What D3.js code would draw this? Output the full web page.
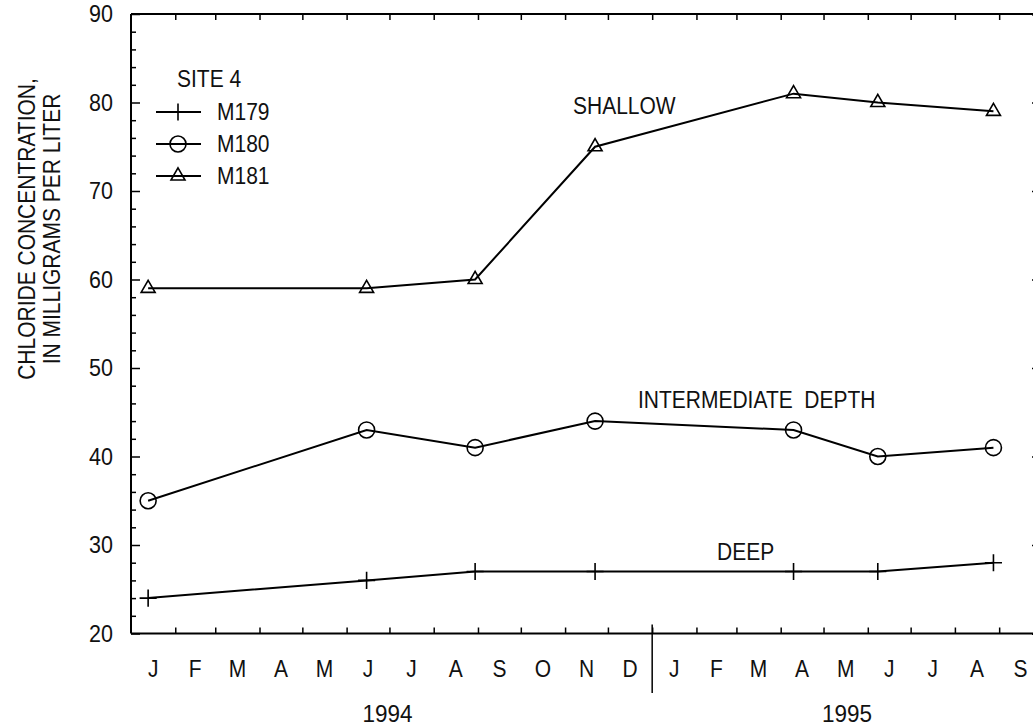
<!DOCTYPE html>
<html>
<head>
<meta charset="utf-8">
<script src="https://cdn.jsdelivr.net/npm/d3@7"></script>
<style>
  body { margin: 0; background: #fff; }
  text { font-family: "Liberation Sans", Arial, sans-serif; fill: #111; }
</style>
</head>
<body>
<div id="chart"></div>
<script>
// sampling dates (same for the three wells)
const sampleDates = ["1994-01-13", "1994-06-15", "1994-08-30", "1994-11-22", "1995-04-10", "1995-06-08", "1995-08-28"];
const m179 = [24, 26, 27, 27, 27, 27, 28];   // deep
const m180 = [35, 43, 41, 44, 43, 40, 41];   // intermediate depth
const m181 = [59, 59, 60, 75, 81, 80, 79];   // shallow
const monthLabels = ["J","F","M","A","M","J","J","A","S","O","N","D","J","F","M","A","M","J","J","A","S"];
const yearLabels = ["1994", "1995"];

const W = 1033, H = 728;
const parse = d3.timeParse("%Y-%m-%d");
const stretch = "scale(1,1.1)"; // the lettering in the original is a bit tall

const svg = d3.select("#chart").append("svg")
    .attr("width", W).attr("height", H);

const x = d3.scaleTime()
  .domain([new Date(1994, 0, 1), new Date(1995, 9, 1)])
  .range([131, 1042]);
const y = d3.scaleLinear()
  .domain([20, 90])
  .range([633.5, 14]);

const months = d3.timeMonth.range(new Date(1994, 0, 1), new Date(1995, 9, 1));

// frame lines
const frame = svg.append("g").attr("stroke", "#000").attr("stroke-width", 2).attr("fill", "none");
frame.append("line").attr("x1", x.range()[0]).attr("x2", x.range()[1]).attr("y1", y(20)).attr("y2", y(20));
frame.append("line").attr("x1", x.range()[0]).attr("x2", x.range()[1]).attr("y1", y(90)).attr("y2", y(90));
frame.append("line").attr("x1", x.range()[0]).attr("x2", x.range()[0]).attr("y1", y(20)).attr("y2", y(90));

// left axis: major ticks with labels, minor every 2
svg.append("g")
  .attr("transform", `translate(${x.range()[0]},0)`)
  .call(d3.axisLeft(y).tickValues(d3.range(20, 91, 10)).tickSize(-9).tickPadding(18))
  .call(g => g.select(".domain").remove())
  .call(g => g.selectAll("line").attr("stroke-width", 1.5))
  .call(g => g.selectAll("text")
    .attr("font-size", 21.5)
    .attr("font-family", "Liberation Sans, Arial, sans-serif")
    .attr("fill", "#111")
    .attr("transform", stretch));
svg.append("g")
  .attr("transform", `translate(${x.range()[0]},0)`)
  .call(d3.axisLeft(y).tickValues(d3.range(20, 91, 2).filter(v => v % 10)).tickSize(-5).tickFormat(""))
  .call(g => g.select(".domain").remove())
  .call(g => g.selectAll("line").attr("stroke-width", 1.5));

// right axis (sits just past the page edge)
svg.append("g")
  .attr("transform", `translate(${x.range()[1]},0)`)
  .call(d3.axisRight(y).tickValues(d3.range(20, 91, 10)).tickSize(-10).tickFormat(""))
  .call(g => g.select(".domain").attr("stroke-width", 2))
  .call(g => g.selectAll("line").attr("stroke-width", 1.5));

// bottom axis: month boundaries
svg.append("g")
  .attr("transform", `translate(0,${y(20)})`)
  .call(d3.axisBottom(x).tickValues(months.slice(1)).tickSize(-6).tickFormat(""))
  .call(g => g.select(".domain").remove())
  .call(g => g.selectAll("line").attr("stroke-width", 1.5));
// top axis
svg.append("g")
  .attr("transform", `translate(0,${y(90)})`)
  .call(d3.axisTop(x).tickValues(months.slice(1)).tickSize(-6).tickFormat(""))
  .call(g => g.select(".domain").remove())
  .call(g => g.selectAll("line").attr("stroke-width", 1.5));

// month letters centred in each month
svg.append("g").selectAll("text")
  .data(months)
  .join("text")
    .attr("transform", d => `translate(${(x(d) + x(d3.timeMonth.offset(d, 1))) / 2},669) ${stretch}`)
    .attr("dy", "0.35em")
    .attr("text-anchor", "middle")
    .attr("font-size", 21)
    .text((d, i) => monthLabels[i]);

// year divider
const yearStart = new Date(1995, 0, 1);
svg.append("line")
  .attr("x1", x(yearStart)).attr("x2", x(yearStart))
  .attr("y1", y(20) - 9).attr("y2", 693)
  .attr("stroke", "#000").attr("stroke-width", 1.5);

// year labels
const yearSpans = [[x.domain()[0], yearStart], [yearStart, x.domain()[1]]];
svg.append("g").selectAll("text")
  .data(yearLabels)
  .join("text")
    .attr("transform", (d, i) => `translate(${(x(yearSpans[i][0]) + x(yearSpans[i][1])) / 2 - (i ? 0 : 4)},713) ${stretch}`)
    .attr("dy", "0.35em")
    .attr("text-anchor", "middle")
    .attr("font-size", 22.5)
    .text(d => d);

// y title
const title = svg.append("text")
  .attr("transform", `translate(40,229) rotate(-90) ${stretch}`)
  .attr("text-anchor", "middle")
  .attr("font-size", 21);
title.append("tspan").attr("x", 0).attr("dy", "-0.2em").text("CHLORIDE CONCENTRATION,");
title.append("tspan").attr("x", 0).attr("dy", "1.05em").text("IN MILLIGRAMS PER LITER");

// series
const series = [
  { name: "M179", values: m179, symbol: d3.symbolPlus, size: 97 },
  { name: "M180", values: m180, symbol: d3.symbolCircle, size: 201 },
  { name: "M181", values: m181, symbol: d3.symbolTriangle2, size: 140 }
];

const line = d3.line()
  .x(d => x(d.date))
  .y(d => y(d.value));

series.forEach(s => {
  const pts = sampleDates.map((d, i) => ({ date: parse(d), value: s.values[i] }));
  svg.append("path")
    .datum(pts)
    .attr("fill", "none")
    .attr("stroke", "#000")
    .attr("stroke-width", 2)
    .attr("d", line);
  svg.append("g").selectAll("path")
    .data(pts)
    .join("path")
      .attr("transform", d => `translate(${x(d.date)},${y(d.value)})`)
      .attr("d", d3.symbol(s.symbol, s.size))
      .attr("fill", "none")
      .attr("stroke", "#000")
      .attr("stroke-width", 1.6);
});

// series labels
const notes = [["SHALLOW", 573, 106], ["INTERMEDIATE  DEPTH", 638, 400], ["DEEP", 717, 552]];
svg.append("g").selectAll("text")
  .data(notes)
  .join("text")
    .attr("transform", d => `translate(${d[1]},${d[2]}) ${stretch}`)
    .attr("dy", "0.35em")
    .attr("font-size", 21)
    .attr("xml:space", "preserve")
    .style("white-space", "pre")
    .text(d => d[0]);

// legend
const legend = svg.append("g");
legend.append("text")
  .attr("transform", `translate(177,79) ${stretch}`)
  .attr("dy", "0.35em")
  .attr("font-size", 21).text("SITE 4");
const legendRows = legend.selectAll(".row")
  .data(series)
  .join("g")
    .attr("class", "row")
    .attr("transform", (d, i) => `translate(0,${112 + i * 32})`);
legendRows.append("line")
  .attr("x1", 156).attr("x2", 201)
  .attr("stroke", "#000").attr("stroke-width", 2);
legendRows.append("path")
  .attr("transform", "translate(178,0)")
  .attr("d", d => d3.symbol(d.symbol, d.size)())
  .attr("fill", "none").attr("stroke", "#000").attr("stroke-width", 1.6);
legendRows.append("text")
  .attr("transform", `translate(217,0) ${stretch}`)
  .attr("dy", "0.35em")
  .attr("font-size", 21)
  .text(d => d.name);
</script>
</body>
</html>
